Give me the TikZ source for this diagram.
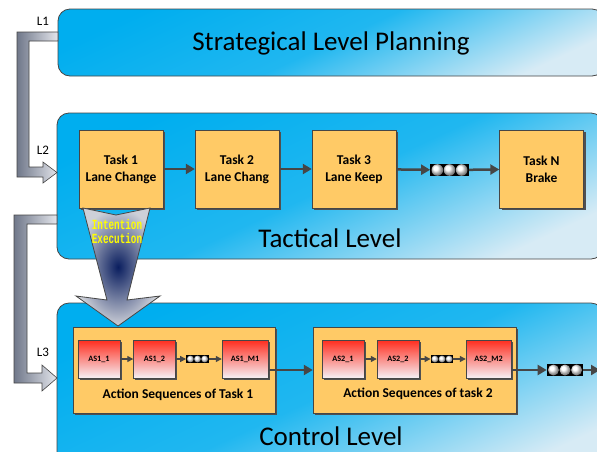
\documentclass[tikz,border=0pt]{standalone}
\usepackage{fontspec}
\setmainfont{Carlito}
\newfontfamily\monofont{Liberation Mono}
\usetikzlibrary{arrows.meta,shadows}
\definecolor{pcyan}{RGB}{0,174,239}
\definecolor{plight}{RGB}{215,235,245}
\definecolor{edge}{RGB}{70,70,70}
\definecolor{taskfill}{RGB}{255,202,102}
\definecolor{shadowgray}{RGB}{80,80,80}
\definecolor{asred}{RGB}{255,45,30}
\definecolor{aswhite}{RGB}{245,240,245}
\definecolor{bardark}{RGB}{112,120,138}
\definecolor{barlight}{RGB}{228,230,236}
\definecolor{navy}{RGB}{10,30,95}
\definecolor{arrowgray}{RGB}{205,208,216}
\definecolor{hiyellow}{RGB}{255,255,0}
\tikzset{
  panel/.style={draw=edge, line width=0.8pt, rounded corners=12pt, top color=pcyan, bottom color=plight, middle color=pcyan!85!plight, shading angle=25},
  task/.style={draw=edge, fill=taskfill, minimum width=84pt, minimum height=78pt, align=center,
    font=\bfseries\fontsize{13.5}{17}\selectfont, general shadow={fill=shadowgray, shadow xshift=2pt, shadow yshift=-2pt}},
  seqbox/.style={draw=edge, fill=taskfill, minimum height=86pt, general shadow={fill=shadowgray, shadow xshift=2pt, shadow yshift=-2pt}},
  asbox/.style={draw=edge, top color=asred, bottom color=aswhite, minimum width=42pt, minimum height=38pt,
    font=\bfseries\fontsize{8.2}{9}\selectfont, general shadow={fill=shadowgray, shadow xshift=1.5pt, shadow yshift=-1.5pt}},
  seqlabel/.style={font=\bfseries\fontsize{13.5}{15}\selectfont},
  dotbar/.style={fill=black, inner sep=0pt},
  flow/.style={draw=edge, line width=2.5pt, -{Triangle[length=9pt,width=10pt]}},
  smallflow/.style={draw=edge, line width=1.2pt, -{Triangle[length=6pt,width=6pt]}},
  lbar/.style={draw=edge, line width=0.6pt, left color=bardark, right color=barlight},
  title/.style={font=\fontsize{27}{30}\selectfont},
  lvl/.style={font=\fontsize{13}{15}\selectfont}
}
\newcommand{\balldots}[4]{%
  \node[dotbar, minimum width=6.6*#4pt, minimum height=2.2*#4pt] (#1) at (#2,#3) {};
  \foreach \k in {-1,0,1} \shade[ball color=white] ({#2+2.1*#4*\k},#3) circle (#4);
}
\newcommand{\tallword}[1]{\scalebox{1}[1.5]{#1}}
\begin{document}
\begin{tikzpicture}[x=1pt,y=-1pt]
  \useasboundingbox (0,0) rectangle (597,451);
  \clip (0,0) rectangle (597,451);
  \fill[white] (0,0) rectangle (597,451);
  % panels
  \draw[panel] (58,9) rectangle (604,76);
  \draw[panel] (57,113) rectangle (603,259);
  \draw[panel] (57,303) rectangle (603,480);
  \node[title] (strat) at (331,43) {Strategical Level Planning};
  \node[title] (tact) at (330,238) {Tactical Level};
  \node[title] (ctrl) at (331,436) {Control Level};
  % level arrows
  \draw[lbar] (58,32) -- (17,32) -- (17,177) -- (43,177) -- (43,183) -- (57,172.5) -- (43,162) -- (43,167) -- (29,167) -- (29,41) -- (58,41) -- cycle;
  \draw[lbar] (57,215) -- (14,215) -- (14,383) -- (42,383) -- (42,391) -- (57,378) -- (42,365) -- (42,373) -- (27,373) -- (27,224) -- (57,224) -- cycle;
  \node[lvl] (l1) at (43,21) {L1};
  \node[lvl] (l2) at (43,150) {L2};
  \node[lvl] (l3) at (43,352) {L3};
  % tactical tasks
  \node[task] (task1) at (121,169) {Task 1\\Lane Change};
  \node[task] (task2) at (237,169) {Task 2\\Lane Chang};
  \node[task] (task3) at (354,169) {Task 3\\Lane Keep};
  \node[task] (taskN) at (541.5,169) {Task N\\Brake};
  \balldots{tdots}{449.5}{170}{5.8}
  \draw[flow] (task1) -- (task2);
  \draw[flow] (task2) -- (task3);
  \draw[flow] (task3) -- (tdots);
  \draw[flow] (tdots) -- (taskN);
  % intention arrow
  \shade[draw=edge, line width=0.8pt, inner color=navy, outer color=arrowgray]
    (83,208) -- (116,215) -- (150,208) -- (127,300) -- (160,296) -- (118,326) -- (76,296) -- (107,300) -- cycle;
  \node[text=hiyellow, align=center, font=\monofont\bfseries\fontsize{9.3}{14}\selectfont] (intent) at (117,232) {\tallword{Intention}\\\tallword{Execution}};
  % control sequences
  \node[seqbox, minimum width=202pt] (as1seq) at (174,370) {};
  \node[seqbox, minimum width=203pt] (as2seq) at (414.5,370) {};
  \node[seqlabel] (as1lbl) at (178,395) {Action Sequences of Task 1};
  \node[seqlabel] (as2lbl) at (418,394) {Action Sequences of task 2};
  \node[asbox] (as11) at (99,359) {AS1\_1};
  \node[asbox] (as12) at (154.5,359) {AS1\_2};
  \node[asbox, minimum width=46pt] (as1m) at (245,359) {AS1\_M1};
  \node[asbox] (as21) at (343,359) {AS2\_1};
  \node[asbox] (as22) at (398,359) {AS2\_2};
  \node[asbox, minimum width=45pt] (as2m) at (488.5,359) {AS2\_M2};
  \balldots{sdots1}{197.5}{359}{3.4}
  \balldots{sdots2}{442}{359}{3.4}
  \draw[smallflow] (as11) -- (as12);
  \draw[smallflow] (as12) -- (sdots1);
  \draw[smallflow] (sdots1) -- (as1m);
  \draw[smallflow] (as21) -- (as22);
  \draw[smallflow] (as22) -- (sdots2);
  \draw[smallflow] (sdots2) -- (as2m);
  \balldots{cdots}{565}{370}{5.5}
  \coordinate (cend) at (600,370);
  \draw[flow] (as1m.east |- as2seq.west) -- (as2seq.west);
  \draw[flow] (as2m.east |- as2seq.east) -- (cdots);
  \draw[flow] (cdots) -- (cend);
\end{tikzpicture}
\end{document}
